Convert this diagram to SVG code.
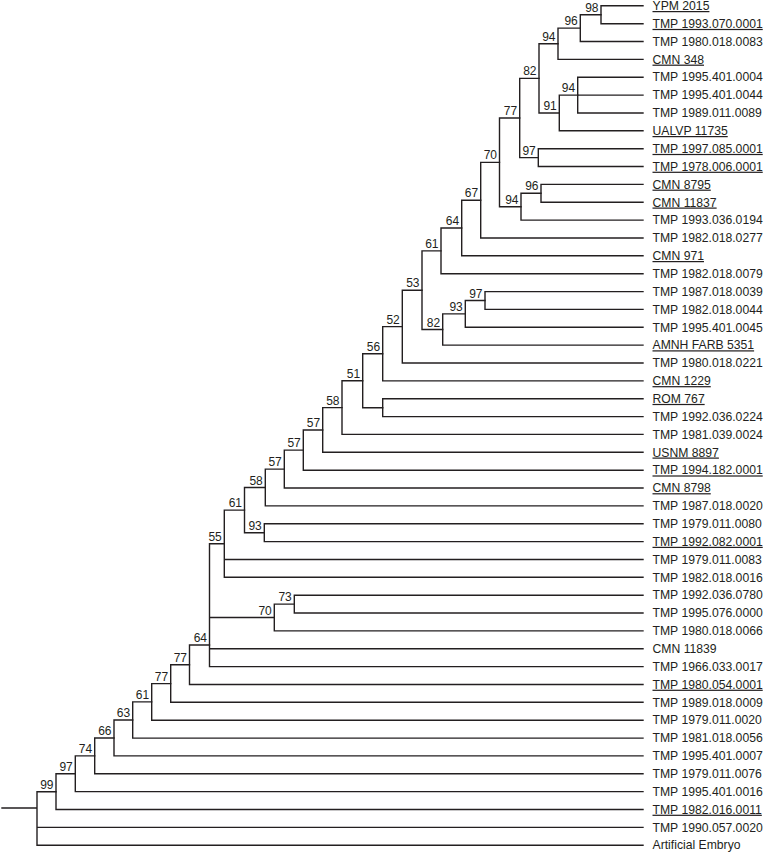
<svg xmlns="http://www.w3.org/2000/svg" width="765" height="856" viewBox="0 0 765 856">
<style>
.e{fill:none;stroke:#231f20;stroke-width:1.4;stroke-linecap:square}
.t{font-family:"Liberation Sans",Arial,sans-serif;font-size:12.2px;fill:#231f20}
.u{text-decoration:underline}
.b{font-family:"Liberation Sans",Arial,sans-serif;font-size:12px;fill:#231f20;text-anchor:end}
</style>
<rect width="765" height="856" fill="#fff"/>
<g id="connectors">
<path class="e" d="M643 5.8H601V23.7H643"/>
<path class="e" d="M601 14.7H580.3V41.5H643"/>
<path class="e" d="M580.3 28.1H558V59.4H643"/>
<path class="e" d="M643 77.2H577.7V113H643M577.7 95.1H643"/>
<path class="e" d="M577.7 95.1H559.3V130.8H643"/>
<path class="e" d="M558 43.8H539V113H559.3"/>
<path class="e" d="M643 148.7H538.3V166.5H643"/>
<path class="e" d="M539 78.4H519.7V157.6H538.3"/>
<path class="e" d="M643 184.4H541V202.3H643"/>
<path class="e" d="M541 193.3H521V220.1H643"/>
<path class="e" d="M519.7 118H499.5V206.7H521"/>
<path class="e" d="M499.5 162.4H480.7V238H643"/>
<path class="e" d="M480.7 200.2H461.7V255.8H643"/>
<path class="e" d="M461.7 228H441V273.7H643"/>
<path class="e" d="M643 291.6H485V309.4H643"/>
<path class="e" d="M485 300.5H465.3V327.3H643"/>
<path class="e" d="M465.3 313.9H442.7V345.1H643"/>
<path class="e" d="M441 250.9H422V329.5H442.7"/>
<path class="e" d="M422 290.2H402.3V363H643"/>
<path class="e" d="M402.3 326.6H382.7V380.9H643"/>
<path class="e" d="M643 398.7H382.7V416.6H643"/>
<path class="e" d="M382.7 353.8H362.7V407.7H382.7"/>
<path class="e" d="M362.7 380.8H342V434.4H643"/>
<path class="e" d="M342 407.6H322.7V452.3H643"/>
<path class="e" d="M322.7 430H303.3V470.2H643"/>
<path class="e" d="M303.3 450.1H284.3V488H643"/>
<path class="e" d="M284.3 469.1H265.3V505.9H643"/>
<path class="e" d="M643 523.7H264.3V541.6H643"/>
<path class="e" d="M265.3 487.5H244.5V532.7H264.3"/>
<path class="e" d="M244.5 510.1H224.3V577.3H643M224.3 559.5H643"/>
<path class="e" d="M643 595.2H294.3V613H643"/>
<path class="e" d="M294.3 604.1H274.3V630.9H643"/>
<path class="e" d="M224.3 543.7H209.5V666.6H643M209.5 617.5H274.3M209.5 648.8H643"/>
<path class="e" d="M209.5 645H189.5V684.5H643"/>
<path class="e" d="M189.5 664.8H170.7V702.3H643"/>
<path class="e" d="M170.7 683.6H151.7V720.2H643"/>
<path class="e" d="M151.7 701.9H132.7V738.1H643"/>
<path class="e" d="M132.7 720H114V755.9H643"/>
<path class="e" d="M114 738H94.7V773.8H643"/>
<path class="e" d="M94.7 755.9H75.3V791.6H643"/>
<path class="e" d="M75.3 773.8H56V809.5H643"/>
<path class="e" d="M56 791.7H37V845.2H643M37 827.4H643M2 808H37"/>
</g>
<g id="support">
<text class="b" x="598.5" y="11.7">98</text>
<text class="b" x="577.8" y="25.1">96</text>
<text class="b" x="555.5" y="40.8">94</text>
<text class="b" x="575.2" y="92.1">94</text>
<text class="b" x="556.8" y="110">91</text>
<text class="b" x="536.5" y="75.4">82</text>
<text class="b" x="535.8" y="154.6">97</text>
<text class="b" x="517.2" y="115">77</text>
<text class="b" x="538.5" y="190.3">96</text>
<text class="b" x="518.5" y="203.7">94</text>
<text class="b" x="497" y="159.4">70</text>
<text class="b" x="478.2" y="197.2">67</text>
<text class="b" x="459.2" y="225">64</text>
<text class="b" x="438.5" y="247.9">61</text>
<text class="b" x="482.5" y="297.5">97</text>
<text class="b" x="462.8" y="310.9">93</text>
<text class="b" x="440.2" y="326.5">82</text>
<text class="b" x="419.5" y="287.2">53</text>
<text class="b" x="399.8" y="323.6">52</text>
<text class="b" x="380.2" y="350.8">56</text>
<text class="b" x="360.2" y="377.8">51</text>
<text class="b" x="339.5" y="404.6">58</text>
<text class="b" x="320.2" y="427">57</text>
<text class="b" x="300.8" y="447.1">57</text>
<text class="b" x="281.8" y="466.1">57</text>
<text class="b" x="262.8" y="484.5">58</text>
<text class="b" x="261.8" y="529.7">93</text>
<text class="b" x="242" y="507.1">61</text>
<text class="b" x="221.8" y="540.7">55</text>
<text class="b" x="291.8" y="601.1">73</text>
<text class="b" x="271.8" y="614.5">70</text>
<text class="b" x="207" y="642">64</text>
<text class="b" x="187" y="661.8">77</text>
<text class="b" x="168.2" y="680.6">77</text>
<text class="b" x="149.2" y="698.9">61</text>
<text class="b" x="130.2" y="717">63</text>
<text class="b" x="111.5" y="735">66</text>
<text class="b" x="92.2" y="752.9">74</text>
<text class="b" x="72.8" y="770.8">97</text>
<text class="b" x="53.5" y="788.7">99</text>
</g>
<g id="taxa">
<text id="L0" class="t u" x="652.5" y="10">YPM 2015</text>
<text id="L1" class="t u" x="652.5" y="27.9">TMP 1993.070.0001</text>
<text id="L2" class="t" x="652.5" y="45.7">TMP 1980.018.0083</text>
<text id="L3" class="t u" x="652.5" y="63.6">CMN 348</text>
<text id="L4" class="t" x="652.5" y="81.4">TMP 1995.401.0004</text>
<text id="L5" class="t" x="652.5" y="99.3">TMP 1995.401.0044</text>
<text id="L6" class="t" x="652.5" y="117.2">TMP 1989.011.0089</text>
<text id="L7" class="t u" x="652.5" y="135">UALVP 11735</text>
<text id="L8" class="t u" x="652.5" y="152.9">TMP 1997.085.0001</text>
<text id="L9" class="t u" x="652.5" y="170.7">TMP 1978.006.0001</text>
<text id="L10" class="t u" x="652.5" y="188.6">CMN 8795</text>
<text id="L11" class="t u" x="652.5" y="206.5">CMN 11837</text>
<text id="L12" class="t" x="652.5" y="224.3">TMP 1993.036.0194</text>
<text id="L13" class="t" x="652.5" y="242.2">TMP 1982.018.0277</text>
<text id="L14" class="t u" x="652.5" y="260">CMN 971</text>
<text id="L15" class="t" x="652.5" y="277.9">TMP 1982.018.0079</text>
<text id="L16" class="t" x="652.5" y="295.8">TMP 1987.018.0039</text>
<text id="L17" class="t" x="652.5" y="313.6">TMP 1982.018.0044</text>
<text id="L18" class="t" x="652.5" y="331.5">TMP 1995.401.0045</text>
<text id="L19" class="t u" x="652.5" y="349.3">AMNH FARB 5351</text>
<text id="L20" class="t" x="652.5" y="367.2">TMP 1980.018.0221</text>
<text id="L21" class="t u" x="652.5" y="385.1">CMN 1229</text>
<text id="L22" class="t u" x="652.5" y="402.9">ROM 767</text>
<text id="L23" class="t" x="652.5" y="420.8">TMP 1992.036.0224</text>
<text id="L24" class="t" x="652.5" y="438.6">TMP 1981.039.0024</text>
<text id="L25" class="t u" x="652.5" y="456.5">USNM 8897</text>
<text id="L26" class="t u" x="652.5" y="474.4">TMP 1994.182.0001</text>
<text id="L27" class="t u" x="652.5" y="492.2">CMN 8798</text>
<text id="L28" class="t" x="652.5" y="510.1">TMP 1987.018.0020</text>
<text id="L29" class="t" x="652.5" y="527.9">TMP 1979.011.0080</text>
<text id="L30" class="t u" x="652.5" y="545.8">TMP 1992.082.0001</text>
<text id="L31" class="t" x="652.5" y="563.7">TMP 1979.011.0083</text>
<text id="L32" class="t" x="652.5" y="581.5">TMP 1982.018.0016</text>
<text id="L33" class="t" x="652.5" y="599.4">TMP 1992.036.0780</text>
<text id="L34" class="t" x="652.5" y="617.2">TMP 1995.076.0000</text>
<text id="L35" class="t" x="652.5" y="635.1">TMP 1980.018.0066</text>
<text id="L36" class="t" x="652.5" y="653">CMN 11839</text>
<text id="L37" class="t" x="652.5" y="670.8">TMP 1966.033.0017</text>
<text id="L38" class="t u" x="652.5" y="688.7">TMP 1980.054.0001</text>
<text id="L39" class="t" x="652.5" y="706.5">TMP 1989.018.0009</text>
<text id="L40" class="t" x="652.5" y="724.4">TMP 1979.011.0020</text>
<text id="L41" class="t" x="652.5" y="742.3">TMP 1981.018.0056</text>
<text id="L42" class="t" x="652.5" y="760.1">TMP 1995.401.0007</text>
<text id="L43" class="t" x="652.5" y="778">TMP 1979.011.0076</text>
<text id="L44" class="t" x="652.5" y="795.8">TMP 1995.401.0016</text>
<text id="L45" class="t u" x="652.5" y="813.7">TMP 1982.016.0011</text>
<text id="L46" class="t" x="652.5" y="831.6">TMP 1990.057.0020</text>
<text id="L47" class="t" x="652.5" y="849.4">Artificial Embryo</text>
</g>
</svg>
